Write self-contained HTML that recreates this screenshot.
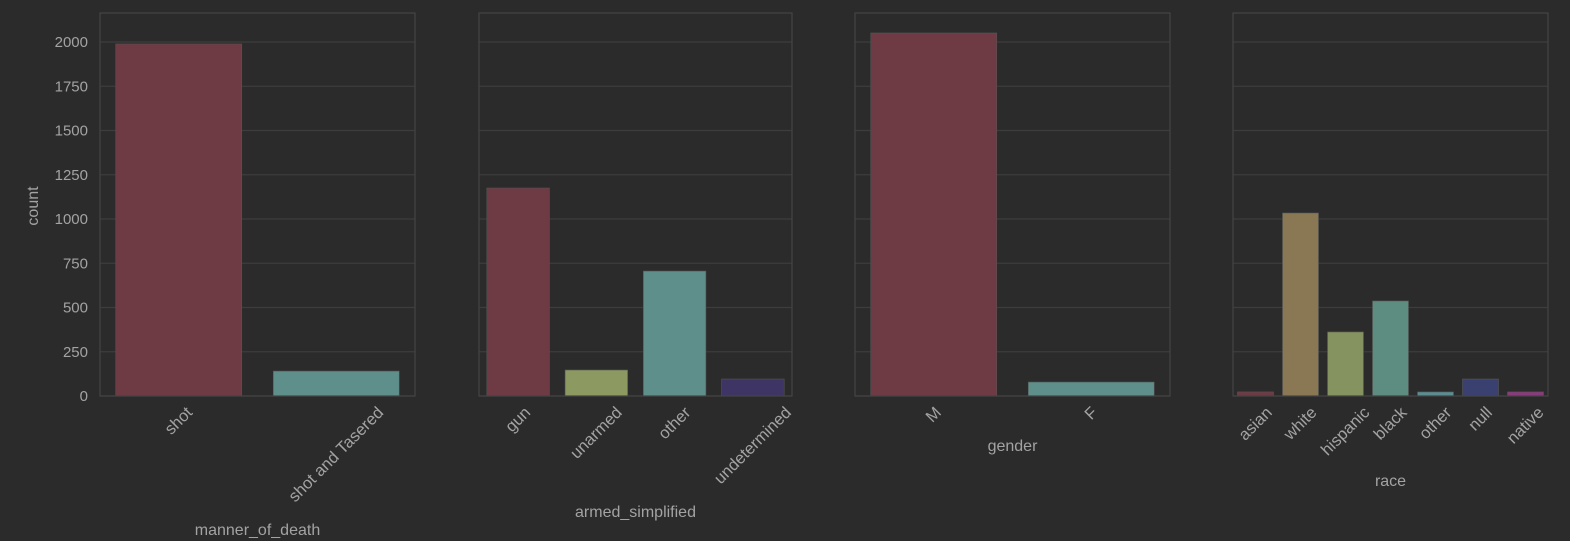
<!DOCTYPE html>
<html><head><meta charset="utf-8">
<style>
html,body{margin:0;padding:0;background:#2b2b2b;}
svg{display:block;font-family:"Liberation Sans",sans-serif;}
</style></head>
<body>
<svg id="chart" width="1570" height="541" viewBox="0 0 1570 541"></svg>
<script>
const mannerCats = ["shot","shot and Tasered"];
const mannerVals = [1989, 141];
const armedCats = ["gun","unarmed","other","undetermined"];
const armedVals = [1175, 147, 706, 96];
const genderCats = ["M","F"];
const genderVals = [2051, 79];
const raceCats = ["asian","white","hispanic","black","other","null","native"];
const raceVals = [23, 1034, 362, 537, 23, 96, 23];
const yTicks = [0,250,500,750,1000,1250,1500,1750,2000];

const panels = [
  {name:"manner-of-death", cats:mannerCats, vals:mannerVals, title:"manner_of_death", x0:100, x1:415, titleY:535,
   colors:["#6e3a44","#5e8f8a"]},
  {name:"armed-simplified", cats:armedCats, vals:armedVals, title:"armed_simplified", x0:479, x1:792, titleY:517,
   colors:["#6e3a44","#8c9a62","#5e8f8a","#3e3565"]},
  {name:"gender", cats:genderCats, vals:genderVals, title:"gender", x0:855, x1:1170, titleY:451,
   colors:["#6e3a44","#5e8f8a"]},
  {name:"race", cats:raceCats, vals:raceVals, title:"race", x0:1233, x1:1548, titleY:486,
   colors:["#6e3a44","#8a7855","#849360","#5d8d80","#5b8d93","#3a4170","#8a3b7e"]}
];
const yTop=13, yBot=396, yMax=2164;
const y = v => yBot - v/yMax*(yBot-yTop);
const svg = document.getElementById('chart');
const NS="http://www.w3.org/2000/svg";
function mk(tag, attrs, parent){
  const e=document.createElementNS(NS,tag);
  for(const k in attrs) e.setAttribute(k,attrs[k]);
  (parent||svg).appendChild(e); return e;
}
panels.forEach((p,pi)=>{
  const g=mk('g',{});
  
  
  yTicks.forEach(t=>{
    const l=mk('line',{x1:p.x0,x2:p.x1,y1:y(t),y2:y(t),stroke:'#3d3d3d','stroke-width':1.2},g);
    
    
    if(pi===0){
      const tx=mk('text',{x:p.x0-12,y:y(t)+5,'text-anchor':'end',fill:'#a3a3a3','font-size':15},g);
      tx.textContent=t;
      
      
    }
  });
  const n=p.cats.length, w=(p.x1-p.x0)/n;
  p.cats.forEach((c,i)=>{
    const cx=p.x0+w*(i+0.5), bw=w*0.8;
    const r=mk('rect',{x:cx-bw/2,y:y(p.vals[i]),width:bw,height:yBot-y(p.vals[i]),fill:p.colors[i],stroke:'#555','stroke-width':0.6},g);
    
    
    const tx=mk('text',{x:cx,y:0,'text-anchor':'middle','dominant-baseline':'central',fill:'#a3a3a3','font-size':16.5},g);
    tx.textContent=c;
    
    
    const L=tx.getComputedTextLength();
    const cy=405+(L+14)*0.354;
    tx.setAttribute('y',cy);
    tx.setAttribute('transform',`rotate(-45 ${cx} ${cy})`);
  });
  const fr=mk('rect',{x:p.x0,y:yTop,width:p.x1-p.x0,height:yBot-yTop,fill:'none',stroke:'#444','stroke-width':1.2},g);
  
  
  const tt=mk('text',{x:(p.x0+p.x1)/2,y:p.titleY,'text-anchor':'middle',fill:'#a3a3a3','font-size':16},g);
  tt.textContent=p.title;
  
  
});
const yl=mk('text',{x:38,y:206,'text-anchor':'middle',fill:'#a3a3a3','font-size':16,transform:'rotate(-90 38 206)'});
yl.textContent='count';


</script>
</body></html>
